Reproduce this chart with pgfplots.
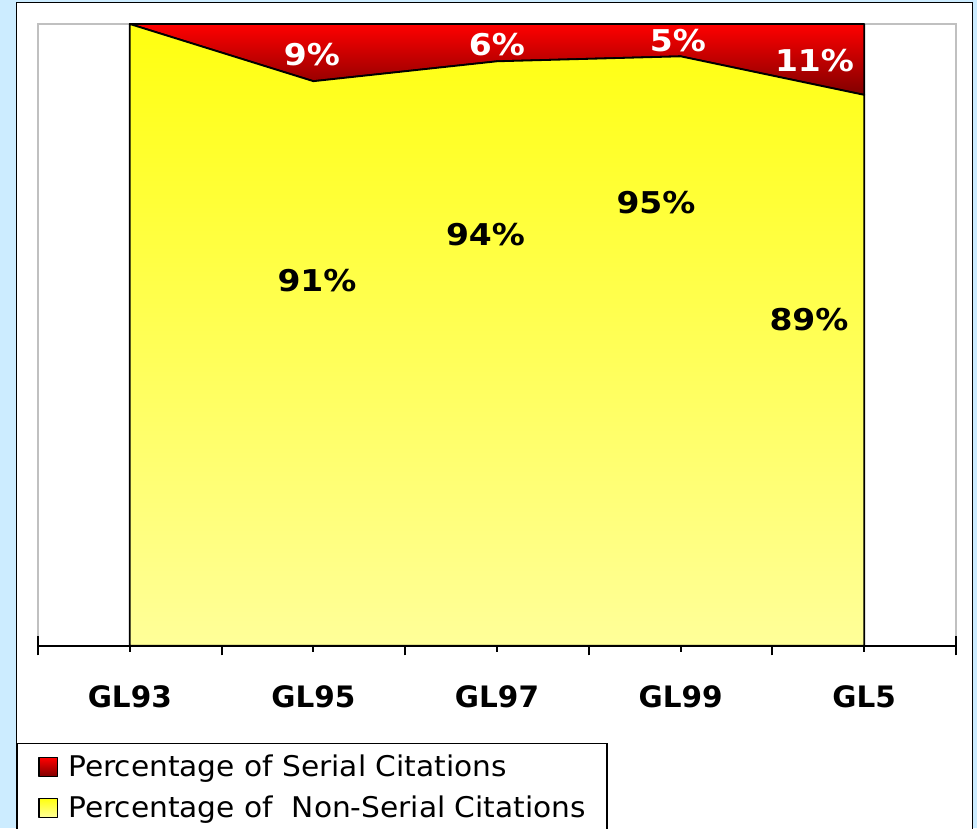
\documentclass[border=0pt]{standalone}
\usepackage{fontspec}
\setmainfont{DejaVu Sans}
\newfontfamily\legfont[FakeStretch=1.04]{DejaVu Sans}
\newfontfamily\lblfont[FakeStretch=1.1]{DejaVu Sans}
\usepackage{pgfplots}
\pgfplotsset{compat=1.18}
\definecolor{bgblue}{HTML}{CCECFF}
\definecolor{plotgray}{HTML}{C0C0C0}
\definecolor{ytop}{HTML}{FFFF10}
\definecolor{ybot}{HTML}{FFFF99}
\definecolor{rtop}{HTML}{FF0000}
\definecolor{rbot}{HTML}{800000}
\begin{document}
\begin{tikzpicture}
\fill[bgblue] (0,0) rectangle (977pt,-828pt);
\draw[black, line width=1.5pt, fill=white] (16.7pt,-2.7pt) rectangle (972.7pt,-840pt);
\begin{axis}[
  at={(38pt,-645.7pt)}, anchor=south west,
  scale only axis, width=918pt, height=621.7pt,
  xmin=-0.5, xmax=4.5, ymin=0, ymax=100,
  axis x line=bottom, axis y line=none,
  x axis line style={-, line width=2pt, black},
  axis background/.style={draw=plotgray, line width=1.2pt, fill=white},
  xtick={0,...,4}, xticklabels={GL93,GL95,GL97,GL99,GL5},
  minor xtick={-0.5,0.5,1.5,2.5,3.5,4.5},
  tick align=center, major tick length=12pt, minor tick length=19.5pt,
  tick style={black, line width=2pt},
  xticklabel style={font=\bfseries\fontsize{29.5pt}{35pt}\selectfont, anchor=base, yshift=-56pt},
  ytick=\empty,
  stack plots=y, clip=false,
  legend style={at={(-0.0232,-0.1560)}, anchor=north west, draw=black, line width=1.5pt, fill=white,
    font=\legfont\fontsize{28.5pt}{34pt}\selectfont, inner xsep=21pt, inner ysep=12pt, row sep=13pt, column sep=10pt,
    nodes={inner sep=0pt, text height=21pt, text depth=7pt}},
  legend cell align=left,
  reverse legend,
  legend image code/.code={\draw[#1, line width=1.2pt] (0pt,-6.8pt) rectangle (18.6pt,11.8pt);},
]
\addplot[draw=black, line width=1.8pt, line join=round, top color=ytop, bottom color=ybot]
  coordinates {(0,100) (1,90.8) (2,94.0) (3,94.8) (4,88.6)} \closedcycle;
\addlegendentry{Percentage of~\ Non-Serial Citations}
\addplot[draw=black, line width=1.8pt, line join=round, top color=rtop, bottom color=rbot]
  coordinates {(0,0) (1,9.2) (2,6.0) (3,5.2) (4,11.4)} \closedcycle;
\addlegendentry{Percentage of Serial Citations}
\end{axis}
\begin{scope}[every node/.style={anchor=base, inner sep=0pt, font=\lblfont\bfseries\fontsize{30pt}{36pt}\selectfont}]
\node[white] at (312pt,-65pt) {9\%};
\node[white] at (497pt,-55pt) {6\%};
\node[white] at (678pt,-51pt) {5\%};
\node[white] at (814.5pt,-71pt) {11\%};
\node[black] at (317pt,-291pt) {91\%};
\node[black] at (485.5pt,-245pt) {94\%};
\node[black] at (656pt,-213pt) {95\%};
\node[black] at (809pt,-330pt) {89\%};
\end{scope}
\pgfresetboundingbox
\path[use as bounding box] (0,0) rectangle (977pt,-828pt);
\end{tikzpicture}
\end{document}
